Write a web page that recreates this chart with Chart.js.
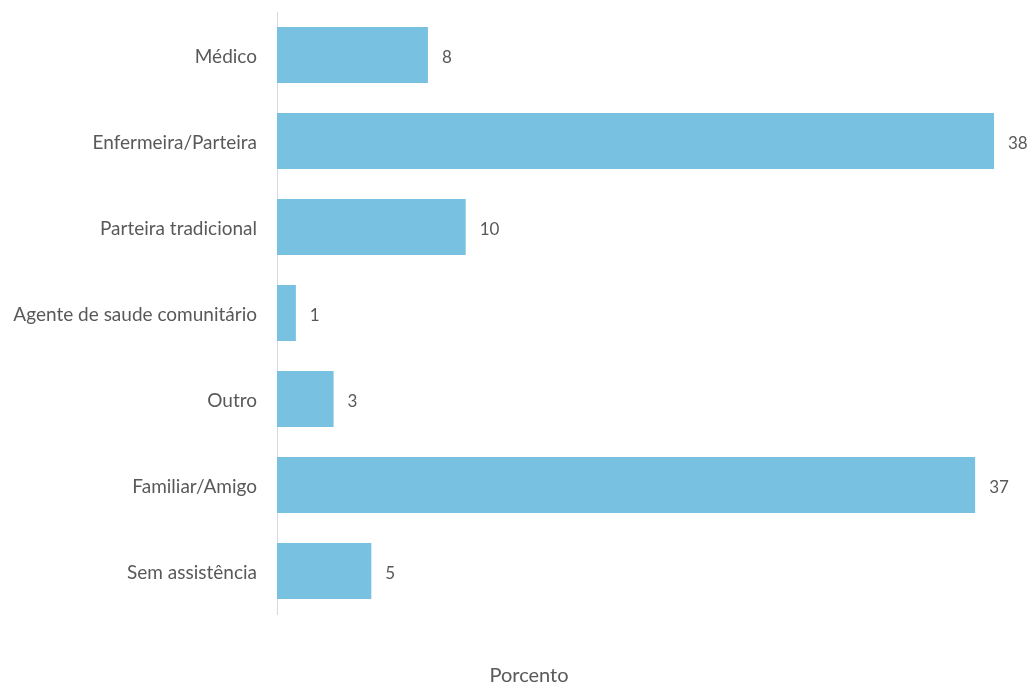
<!DOCTYPE html>
<html>
<head>
<meta charset="utf-8">
<script src="https://cdn.jsdelivr.net/npm/chart.js@4/dist/chart.umd.min.js"></script>
<style>
  html, body { margin: 0; padding: 0; background: #ffffff; }
  #wrap { width: 1030px; height: 682px; position: relative; }
</style>
</head>
<body>
<div id="wrap"><canvas id="c"></canvas></div>
<script>
// Assistência ao parto (percentagem)
const categories = [
  'Médico',
  'Enfermeira/Parteira',
  'Parteira tradicional',
  'Agente de saude comunitário',
  'Outro',
  'Familiar/Amigo',
  'Sem assistência'
];
const values = [8, 38, 10, 1, 3, 37, 5];
const axisTitle = 'Porcento';

const FONT = 'Lato, "Liberation Sans", sans-serif';
const TEXT = '#595959';

// Writes each bar's value just past its end
const valueLabels = {
  id: 'valueLabels',
  afterDatasetsDraw(chart) {
    const ctx = chart.ctx;
    const meta = chart.getDatasetMeta(0);
    ctx.save();
    ctx.font = '17px ' + FONT;
    ctx.fillStyle = TEXT;
    ctx.textAlign = 'left';
    ctx.textBaseline = 'middle';
    meta.data.forEach((bar, i) => {
      ctx.fillText(String(values[i]), bar.x + 14, bar.y + 3);
    });
    ctx.restore();
  }
};

// Axis caption under the plot
const bottomCaption = {
  id: 'bottomCaption',
  afterDraw(chart) {
    const ctx = chart.ctx;
    ctx.save();
    ctx.font = '20px ' + FONT;
    ctx.fillStyle = TEXT;
    ctx.textAlign = 'center';
    ctx.textBaseline = 'middle';
    ctx.fillText(axisTitle, chart.width / 2 + 14, chart.height - 6);
    ctx.restore();
  }
};

new Chart(document.getElementById('c'), {
  type: 'bar',
  data: {
    labels: categories,
    datasets: [{
      data: values,
      backgroundColor: '#78C1E1',
      borderWidth: 0,
      barPercentage: 0.65,
      categoryPercentage: 1.0
    }]
  },
  options: {
    indexAxis: 'y',
    responsive: true,
    maintainAspectRatio: false,
    animation: false,
    layout: { padding: { top: 12, right: 36, bottom: 68, left: 0 } },
    plugins: {
      legend: { display: false },
      tooltip: { enabled: false }
    },
    scales: {
      x: {
        min: 0,
        max: 38,
        display: false
      },
      y: {
        grid: { display: false, drawTicks: false },
        border: { display: true, color: '#D9D9D9', width: 1 },
        ticks: {
          color: TEXT,
          font: { family: FONT, size: 19 },
          padding: 20,
          labelOffset: 2
        },
        afterFit(scale) {
          scale.width = 277;
          scale.paddingTop = 0;
          scale.paddingBottom = 0;
        }
      }
    }
  },
  plugins: [valueLabels, bottomCaption]
});
</script>
</body>
</html>
